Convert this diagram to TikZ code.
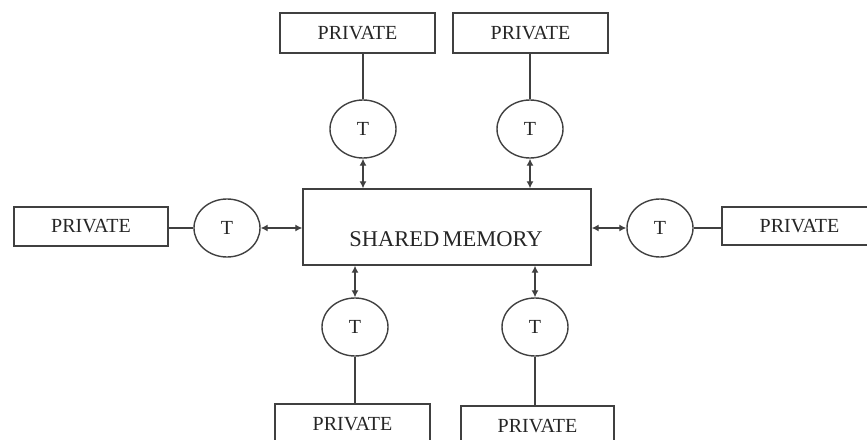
\documentclass[tikz,border=0pt]{standalone}
\usepackage{fontspec}
\setmainfont{Liberation Serif}
\usetikzlibrary{shapes.geometric,arrows.meta}
\begin{document}
\begin{tikzpicture}[x=1pt,y=-1pt,
  ln/.style={draw=black!75,line width=1.4pt},
  pbox/.style={ln,rectangle,inner sep=0pt,minimum width=155pt,minimum height=40pt,text=black!85,font=\fontsize{20}{22}\selectfont},
  tnode/.style={ln,ellipse,inner sep=0pt,minimum width=66pt,minimum height=58pt,text=black!85,font=\fontsize{20}{22}\selectfont},
  link/.style={ln},
  dbl/.style={ln,line width=1.2pt,{Latex[length=7pt,width=7pt]}-{Latex[length=7pt,width=7pt]}}]
\useasboundingbox (0,0) rectangle (867,439);
\clip (0,0) rectangle (867,439);
% shared memory
\node[ln,rectangle,inner sep=0pt,minimum width=288pt,minimum height=76pt] (mem) at (447,227) {};
\node[text=black!85,font=\fontsize{22.5}{24}\selectfont,inner sep=0pt] (memtxt) at (446,239) {SHARED\hspace{0.15em}MEMORY};
% private boxes
\node[pbox] (ptl) at (357.5,33) {PRIVATE};
\node[pbox] (ptr) at (530.5,33) {PRIVATE};
\node[pbox,minimum width=154pt,minimum height=39pt] (plf) at (91,226.5) {PRIVATE};
\node[pbox,minimum height=38pt] (prt) at (799.5,226) {PRIVATE};
\node[pbox] (pbl) at (352.5,424) {PRIVATE};
\node[pbox,minimum width=153pt] (pbr) at (537.5,426) {PRIVATE};
% threads
\node[tnode] (ttl) at (363,129) {T};
\node[tnode] (ttr) at (530,129) {T};
\node[tnode] (tlf) at (227,228) {T};
\node[tnode] (trt) at (660,228) {T};
\node[tnode] (tbl) at (355,327) {T};
\node[tnode] (tbr) at (535,327) {T};
% private links
\draw[link] (ttl.north) -- (ttl.north |- ptl.south);
\draw[link] (ttr.north) -- (ttr.north |- ptr.south);
\draw[link] (tlf.west) -- (tlf.west -| plf.east);
\draw[link] (trt.east) -- (trt.east -| prt.west);
\draw[link] (tbl.south) -- (tbl.south |- pbl.north);
\draw[link] (tbr.south) -- (tbr.south |- pbr.north);
% memory arrows
\draw[dbl] (ttl.south) -- (ttl.south |- mem.north);
\draw[dbl] (ttr.south) -- (ttr.south |- mem.north);
\draw[dbl] (tlf.east) -- (tlf.east -| mem.west);
\draw[dbl] (trt.west) -- (trt.west -| mem.east);
\draw[dbl] (tbl.north) -- (tbl.north |- mem.south);
\draw[dbl] (tbr.north) -- (tbr.north |- mem.south);
\end{tikzpicture}
\end{document}
